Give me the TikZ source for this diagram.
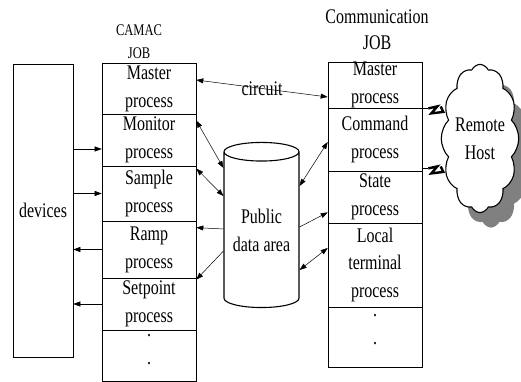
\documentclass[tikz,border=0pt]{standalone}
\usepackage{fontspec}
\setmainfont{Liberation Serif}
\usetikzlibrary{arrows.meta, shapes.geometric, shapes.symbols}

\begin{document}
\begin{tikzpicture}[x=1pt, y=1pt,
  proc/.style={draw, line width=0.6pt, yscale=1.3, minimum width=94pt, inner sep=0pt, align=center, font=\fontsize{16}{21.5}\selectfont},
  lbl/.style={yscale=1.3, inner sep=0pt, align=center, font=\fontsize{16}{20}\selectfont},
  host/.style={cloud, cloud puffs=12, cloud puff arc=110, yscale=1.3, minimum width=60pt, minimum height=114pt, inner sep=0pt, align=center, font=\fontsize{16}{21.5}\selectfont},
  link/.style={line width=0.5pt, -{Triangle[length=7pt,width=5pt]}},
  both/.style={line width=0.5pt, {Triangle[length=7pt,width=5pt]}-{Triangle[length=7pt,width=5pt]}},
  bolt/.style={line width=2.4pt, line join=miter, line cap=butt}]
  \useasboundingbox (0,0) rectangle (521,382);

  % devices
  \node[proc, minimum width=60pt, minimum height=225.4pt] (devices) at (43,171.5) {devices};

  % CAMAC job
  \node[lbl, font=\fontsize{12.5}{17.7}\selectfont] (camac) at (139,340) {CAMAC\\JOB};
  \node[proc, minimum height=39.2pt] (cmaster) at (149,293.5) {Master\\process};
  \node[proc, minimum height=40pt] (cmonitor) at (149,242) {Monitor\\process};
  \node[proc, minimum height=42.3pt] (csample) at (149,188.5) {Sample\\process};
  \node[proc, minimum height=43.8pt] (cramp) at (149,132.5) {Ramp\\process};
  \node[proc, minimum height=40pt] (csetpoint) at (149,78) {Setpoint\\process};
  \node[proc, minimum height=39.2pt] (cdots) at (149,26.5) {.\\.\\[-12pt]\mbox{}};

  % Communication job
  \node[lbl] (comm) at (377,352) {Communication\\JOB};
  \node[proc, minimum height=35.4pt] (mmaster) at (375,297) {Master\\process};
  \node[proc, minimum height=48.5pt] (mcommand) at (375,242.5) {Command\\process};
  \node[proc, minimum height=40pt] (mstate) at (375,185) {State\\process};
  \node[proc, minimum height=64.6pt] (mlocal) at (375,117) {Local\\terminal\\process};
  \node[proc, minimum height=46.2pt] (mdots) at (375,45) {.\\.\\[-10pt]\mbox{}};

  % public data area
  \node[cylinder, shape border rotate=90, aspect=0.25, draw, line width=1.1pt, yscale=1.3,
    minimum width=75pt, minimum height=127pt, inner sep=0pt, align=center,
    font=\fontsize{16}{21.5}\selectfont] (pub) at (261.5,152) {Public\\data area};

  % remote host
  \node[host, fill=black!50] (rhshadow) at (491,228.5) {\phantom{Remote}\\\phantom{Host}};
  \node[host, draw, line width=1.1pt, fill=white] (rh) at (480,243.5) {Remote\\Host};

  % circuit
  \draw[both] ([yshift=8.5]cmaster.east) -- node[lbl] (circ) {circuit} ([yshift=-12]mmaster.west);

  % devices links
  \coordinate (a1) at ([yshift=-9]cmonitor.west);
  \draw[link] (devices.east |- a1) -- (a1);
  \draw[link] (devices.east |- csample.west) -- (csample.west);
  \draw[link] (cramp.west) -- (cramp.west -| devices.east);
  \draw[link] (csetpoint.west) -- (csetpoint.west -| devices.east);

  % data area links
  \draw[both] ([yshift=-7]cmonitor.north east) -- ([yshift=62]pub.west);
  \draw[both] ([yshift=-3]csample.north east) -- ([yshift=34]pub.west);
  \draw[link] ([yshift=1]pub.west) -- ([yshift=-7]cramp.north east);
  \draw[link] ([yshift=-21]pub.west) -- ([yshift=-2]csetpoint.north east);
  \draw[both] ([yshift=44]pub.east) -- ([yshift=-2.5]mcommand.west);
  \draw[link] ([yshift=3]pub.east) -- ([yshift=11]mstate.south west);
  \draw[both] ([yshift=-40]pub.east) -- ([yshift=17]mlocal.west);

  % lines to remote host
  \coordinate (h1) at ([yshift=32]rh.west);
  \coordinate (h2) at ([yshift=-28]rh.west);
  \draw[line width=0.6pt] (mmaster.south east) -- ++(6,0);
  \draw[bolt] ([xshift=6]mmaster.south east) -- ++(9,2) -- ++(-6,-7) -- ++(12,1.5) -- (h1);
  \draw[line width=0.6pt] ([yshift=3]mcommand.south east) -- ++(6,0);
  \draw[bolt] ([xshift=6,yshift=3]mcommand.south east) -- ++(9,2) -- ++(-6,-7) -- ++(12,1.5) -- (h2);
\end{tikzpicture}
\end{document}
